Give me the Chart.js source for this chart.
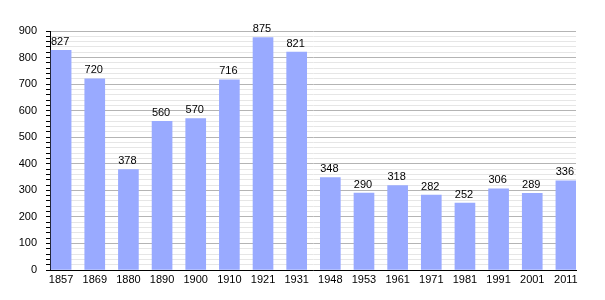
<!DOCTYPE html>
<html>
<head>
<meta charset="utf-8">
<script src="https://cdn.jsdelivr.net/npm/chart.js@4"></script>
<style>
  html, body { margin: 0; padding: 0; background: #fff; }
  #wrap { width: 605px; height: 300px; }
</style>
</head>
<body>
<div id="wrap"><canvas id="popChart" width="605" height="300"></canvas></div>
<script>
var years = ['1857', '1869', '1880', '1890', '1900', '1910', '1921', '1931',
             '1948', '1953', '1961', '1971', '1981', '1991', '2001', '2011'];
var population = [827, 720, 378, 560, 570, 716, 875, 821, 348, 290, 318, 282, 252, 306, 289, 336];
var yTicks = [0, 100, 200, 300, 400, 500, 600, 700, 800, 900];

// bars sit on a linear x scale so the first one touches the y axis
var points = population.map(function (v, i) { return { x: i, y: v }; });

var valueLabels = {
  id: 'valueLabels',
  afterDatasetsDraw: function (chart) {
    var ctx = chart.ctx;
    var meta = chart.getDatasetMeta(0);
    ctx.save();
    ctx.font = '11px "Liberation Sans", Arial, sans-serif';
    ctx.fillStyle = '#000';
    ctx.textAlign = 'center';
    ctx.textBaseline = 'bottom';
    meta.data.forEach(function (bar, i) {
      ctx.fillText(String(population[i]), bar.x - 1, bar.y - 3);
    });
    ctx.restore();
  }
};

var chart = new Chart(document.getElementById('popChart'), {
  type: 'bar',
  data: {
    datasets: [{
      data: points,
      backgroundColor: '#99aaff',
      borderWidth: 0,
      barThickness: 20
    }]
  },
  options: {
    responsive: false,
    animation: false,
    layout: { padding: { top: 31, right: 29, left: 0, bottom: 0 } },
    plugins: {
      legend: { display: false },
      tooltip: { enabled: false }
    },
    scales: {
      x: {
        type: 'linear',
        offset: false,
        min: -0.33,
        max: 15.3,
        grid: { display: false, drawTicks: false },
        border: { display: true, color: '#000', width: 1 },
        ticks: {
          stepSize: 1,
          includeBounds: false,
          autoSkip: false,
          maxRotation: 0,
          padding: 3,
          color: '#000',
          font: { family: '"Liberation Sans", Arial, sans-serif', size: 11 },
          callback: function (v) { return years[v] !== undefined && Number.isInteger(v) ? years[v] : ''; }
        },
        afterFit: function (s) { s.height = 30; }
      },
      y: {
        min: 0,
        max: 900,
        grid: {
          color: function (c) {
            return c.tick && c.tick.value % 100 === 0 ? '#b4b4b4' : '#e6e6e6';
          },
          tickColor: '#000',
          tickLength: 4,
          drawTicks: true
        },
        border: { display: true, color: '#000', width: 1 },
        ticks: {
          stepSize: 20,
          autoSkip: false,
          padding: 9,
          color: '#000',
          font: { family: '"Liberation Sans", Arial, sans-serif', size: 11 },
          callback: function (v) { return yTicks.indexOf(v) >= 0 ? String(v) : ''; }
        },
        afterFit: function (s) { s.width = 50; }
      }
    }
  },
  plugins: [valueLabels]
});
</script>
</body>
</html>
